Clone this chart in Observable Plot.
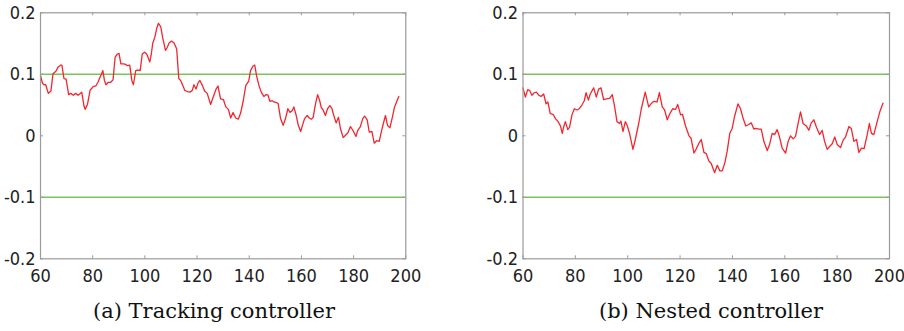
<!DOCTYPE html>
<html>
<head>
<meta charset="utf-8">
<script src="https://cdn.jsdelivr.net/npm/d3@7"></script>
<script src="https://cdn.jsdelivr.net/npm/@observablehq/plot@0.6"></script>
<style>
  html, body { margin: 0; padding: 0; background: #fff; }
  #fig { position: relative; width: 904px; height: 331px; overflow: hidden; background: #fff; }
  .panel { position: absolute; top: 0; }
  .cap { position: absolute; top: 299px; font-family: "DejaVu Serif", "Liberation Serif", serif; font-size: 21px; color: #111; white-space: nowrap; transform: translateX(-50%); }
</style>
</head>
<body>
<div id="fig">
  <div id="pa" class="panel" style="left:0px"></div>
  <div id="pb" class="panel" style="left:452px"></div>
  <div id="ca" class="cap" style="left:214px"></div>
  <div id="cb" class="cap" style="left:711px"></div>
</div>
<script>
// ---- Data ----
const captions = ["(a) Tracking controller", "(b) Nested controller"];
const xTicks = [60, 80, 100, 120, 140, 160, 180, 200];
const xTickLabels = ["60", "80", "100", "120", "140", "160", "180", "200"];
const yTicks = [-0.2, -0.1, 0, 0.1, 0.2];
const yTickLabels = ["-0.2", "-0.1", "0", "0.1", "0.2"];
const limits = [-0.1, 0.1];

// (a) Tracking controller
const trackX = [60,60.8,61.4,62,63,64,64.8,65.9,66.8,67.8,68.2,69,69.8,70.8,71.6,72.6,73.5,74.4,75,75.8,76.7,77.1,78,79,80.2,81.2,82,83.1,83.9,84.5,85.1,86,86.9,87.8,88.6,89.5,90.1,90.8,91.8,92.7,93.3,94.2,95,95.6,96.5,97.5,98.2,99,99.9,100.7,101.9,102.4,103,103.8,104.5,105.2,106.1,106.8,107.9,108.6,109.3,110.2,111.2,112.2,113,113.7,114.5,115.3,116.3,117.3,118.2,118.8,119.6,120.4,121.1,122,122.9,123.9,125.2,126.2,127.3,128,129,130.1,131,132,132.9,133.8,134.8,135.8,136.7,137.7,138.7,139.8,140.5,141.4,142.1,142.8,143.7,144.6,145.6,146.5,147.2,147.9,148.8,149.5,150.5,151.1,152,153,153.9,154.8,155.6,156.5,157.1,158,158.8,159.7,160.4,161.2,162.2,163,163.8,164.5,165.4,166.2,167,167.6,168.3,169.2,170,170.9,171.7,172.4,173.3,174.2,175,176,176.9,177.8,178.8,179.7,180.9,181.6,182.6,183.5,184.2,185.2,186,187,187.9,188.8,189.8,190.6,191.4,192.2,193,193.9,194.8,195.7,197.3];
const trackY = [0.098,0.085,0.083,0.083,0.069,0.073,0.101,0.105,0.112,0.115,0.115,0.093,0.092,0.067,0.069,0.066,0.069,0.066,0.068,0.071,0.048,0.043,0.051,0.074,0.080,0.081,0.087,0.098,0.106,0.090,0.083,0.087,0.087,0.091,0.128,0.133,0.134,0.117,0.117,0.116,0.114,0.115,0.090,0.083,0.106,0.107,0.106,0.133,0.136,0.133,0.120,0.131,0.150,0.160,0.174,0.183,0.177,0.160,0.139,0.144,0.151,0.154,0.151,0.141,0.093,0.090,0.082,0.074,0.072,0.071,0.074,0.083,0.076,0.086,0.090,0.082,0.073,0.069,0.051,0.063,0.076,0.081,0.060,0.059,0.047,0.043,0.029,0.038,0.029,0.027,0.037,0.057,0.082,0.089,0.106,0.113,0.115,0.098,0.082,0.071,0.064,0.067,0.066,0.056,0.057,0.055,0.054,0.052,0.028,0.017,0.028,0.044,0.038,0.041,0.047,0.033,0.017,0.007,0.017,0.028,0.033,0.029,0.027,0.030,0.052,0.067,0.057,0.046,0.042,0.033,0.044,0.049,0.044,0.033,0.021,0.030,0.011,-0.003,0.001,0.005,0.015,0.009,-0.001,0.009,0.015,0.028,0.032,0.026,0.006,0.007,-0.012,-0.008,-0.009,0.006,0.020,0.033,0.017,0.013,0.029,0.047,0.064];

// (b) Nested controller
const nestX = [60,60.9,61.8,62.5,63.4,64.3,65.1,66,66.9,67.9,68.8,69.5,70.4,71.5,72.4,73.4,74.3,75,75.5,76.2,77.1,77.8,78.7,79.6,80.6,81.5,82.5,83.4,84.1,85,85.7,87,88,88.9,89.8,90.8,91.8,93.1,94.1,94.9,95.9,96.9,97.4,98.2,99.1,99.7,100.7,102,102.9,104.2,105.2,106.7,108,108.9,109.9,111.2,112.1,113.2,114.1,115.1,116.1,117.2,118.3,119.1,120.2,120.9,122.1,123.4,124.2,125.3,126.1,127.2,128.1,129.1,130,131,131.9,133.2,134.2,135.2,136.1,137.1,138,139,139.9,140.8,142.1,143.1,144.1,145.1,146,147.2,148.2,148.9,150.1,151,152,153.3,154.2,155.2,156.1,157.1,158,159,160.3,161.3,162.2,163.2,164.1,165,166,167,168.2,169.2,170.1,171.1,172.1,173.3,174.3,175.2,176.2,177.2,178.1,179.1,180,181.3,182.3,183.2,184.5,185.4,186.4,187.4,188.3,189.3,190.3,191.5,192.3,193.1,194,195.3,196.3,197.5];
const nestY = [0.078,0.063,0.075,0.074,0.066,0.070,0.071,0.066,0.064,0.068,0.052,0.055,0.036,0.035,0.028,0.023,0.016,0.004,0.014,0.023,0.010,0.014,0.034,0.044,0.042,0.044,0.050,0.057,0.070,0.058,0.068,0.078,0.063,0.076,0.078,0.059,0.060,0.061,0.067,0.050,0.023,0.020,0.024,0.007,0.023,0.018,0.004,-0.022,-0.006,0.020,0.044,0.071,0.047,0.052,0.056,0.055,0.070,0.047,0.042,0.026,0.036,0.044,0.043,0.051,0.034,0.035,0.016,0.000,-0.004,-0.028,-0.022,-0.012,-0.006,-0.027,-0.029,-0.041,-0.045,-0.060,-0.048,-0.057,-0.057,-0.044,-0.025,0.004,0.012,0.031,0.052,0.044,0.028,0.016,0.018,0.021,0.011,0.012,0.011,0.011,-0.009,-0.024,-0.014,0.004,0.002,0.010,-0.002,-0.020,-0.028,-0.009,0.000,-0.005,-0.001,0.018,0.039,0.020,0.016,0.009,0.021,0.026,0.014,0.002,0.009,-0.009,-0.022,-0.017,-0.013,-0.002,-0.014,-0.019,-0.007,-0.002,0.015,0.012,-0.009,-0.006,-0.027,-0.020,-0.021,0.002,0.020,0.004,0.002,0.023,0.039,0.053];

// ---- Drawing ----
const FRAME = "#9a9a9a";
const GREEN = "#7cc35a";
const RED = "#f2262e";
const TICKFONT = '"Liberation Sans Narrow", "DejaVu Sans Condensed", "Liberation Sans", sans-serif';

function panel(xs, ys, m) {
  const data = xs.map((x, i) => ({x, y: ys[i]}));
  const W = 452, H = 290;
  const innerW = W - m.left - m.right;
  const innerH = H - m.top - m.bottom;
  const tk = 3;
  return Plot.plot({
    width: W, height: H,
    marginLeft: m.left, marginRight: m.right, marginTop: m.top, marginBottom: m.bottom,
    style: {fontFamily: TICKFONT, fontSize: "18px", color: "#222", background: "transparent", overflow: "visible"},
    x: {domain: [60, 200]},
    y: {domain: [-0.2, 0.2]},
    marks: [
      Plot.ruleY(limits, {stroke: GREEN, strokeWidth: 1.6}),
      Plot.line(data, {x: "x", y: "y", stroke: RED, strokeWidth: 1.3}),
      Plot.frame({stroke: FRAME, strokeWidth: 1.2}),
      Plot.tickX(xTicks, {x: d => d, stroke: FRAME, insetTop: innerH - tk}),
      Plot.tickX(xTicks, {x: d => d, stroke: FRAME, insetBottom: innerH - tk}),
      Plot.tickY(yTicks, {y: d => d, stroke: FRAME, insetRight: innerW - tk}),
      Plot.tickY(yTicks, {y: d => d, stroke: FRAME, insetLeft: innerW - tk}),
      Plot.axisX({ticks: xTicks, tickFormat: (d, i) => xTickLabels[i], tickSize: 0, tickPadding: 10, label: null}),
      Plot.axisY({ticks: yTicks, tickFormat: (d, i) => yTickLabels[i], tickSize: 0, tickPadding: 5, label: null})
    ]
  });
}

document.getElementById("pa").appendChild(panel(trackX, trackY, {left: 40, right: 46.7, top: 12.3, bottom: 31.7}));
document.getElementById("pb").appendChild(panel(nestX, nestY, {left: 70.5, right: 15, top: 12.3, bottom: 31.7}));
document.getElementById("ca").textContent = captions[0];
document.getElementById("cb").textContent = captions[1];
</script>
</body>
</html>
